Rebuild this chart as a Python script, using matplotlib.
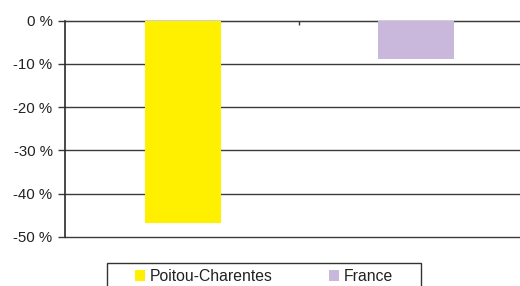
import matplotlib
matplotlib.use("Agg")
import matplotlib.pyplot as plt
from matplotlib.patches import Patch, Rectangle

series = ["Poitou-Charentes", "France"]
values = [-46.8, -8.9]
colors = ["#FFF000", "#C9B8DB"]
yticks = [0, -10, -20, -30, -40, -50]
ytick_labels = ["0 %", "-10 %", "-20 %", "-30 %", "-40 %", "-50 %"]

plt.rcParams['font.family'] = ['Liberation Sans', 'DejaVu Sans']
W, H = 520, 286
fig = plt.figure(figsize=(W/100, H/100), dpi=100)
x0, x1 = 65, 531
ytop, ybot = 20.5, 237
ax = fig.add_axes([x0/W, 1 - ybot/H, (x1 - x0)/W, (ybot - ytop)/H])

pos = list(range(len(series)))
ax.bar(pos, values, width=0.326, color=colors, zorder=3)
ax.set_xlim(-0.5064, len(series) - 0.5064)
ax.set_ylim(-50, 0)
ax.set_yticks(yticks)
ax.set_yticklabels(ytick_labels, fontsize=10.8, color="#222222")
for y in yticks:
    ax.axhline(y, color="#3a3a3a", lw=1.0, zorder=1, clip_on=False)
ax.tick_params(axis='y', length=5, width=1.0, color="#3a3a3a", pad=4)
ax.spines['top'].set_visible(False)
ax.spines['right'].set_visible(False)
ax.spines['left'].set_color("#2a2a2a")
ax.spines['left'].set_linewidth(1.2)
ax.spines['bottom'].set_position(('data', 0))
ax.spines['bottom'].set_color("#3a3a3a")
ax.set_xticks([0.5])
ax.set_xticklabels([""])
ax.tick_params(axis='x', direction='out', length=3, width=1.0, color="#3a3a3a")

# legend frame
fig.patches.append(Rectangle((107/W, -0.1), (421-107)/W, 0.1 + 1 - 263/H,
                             transform=fig.transFigure, fill=False,
                             edgecolor="#333333", lw=1.0))
handles = [Patch(facecolor=c, edgecolor='none', label=s) for s, c in zip(series, colors)]
leg = fig.legend(handles=handles, loc='center left',
                 bbox_to_anchor=(135/W, 1 - 276.5/H),
                 bbox_transform=fig.transFigure,
                 ncol=2, frameon=False, fontsize=11.3,
                 handlelength=0.65, handleheight=0.7, handletextpad=0.32,
                 borderpad=0, columnspacing=3.55, borderaxespad=0)
for t in leg.get_texts():
    t.set_color("#222222")
fig.savefig("out.png", dpi=100)
